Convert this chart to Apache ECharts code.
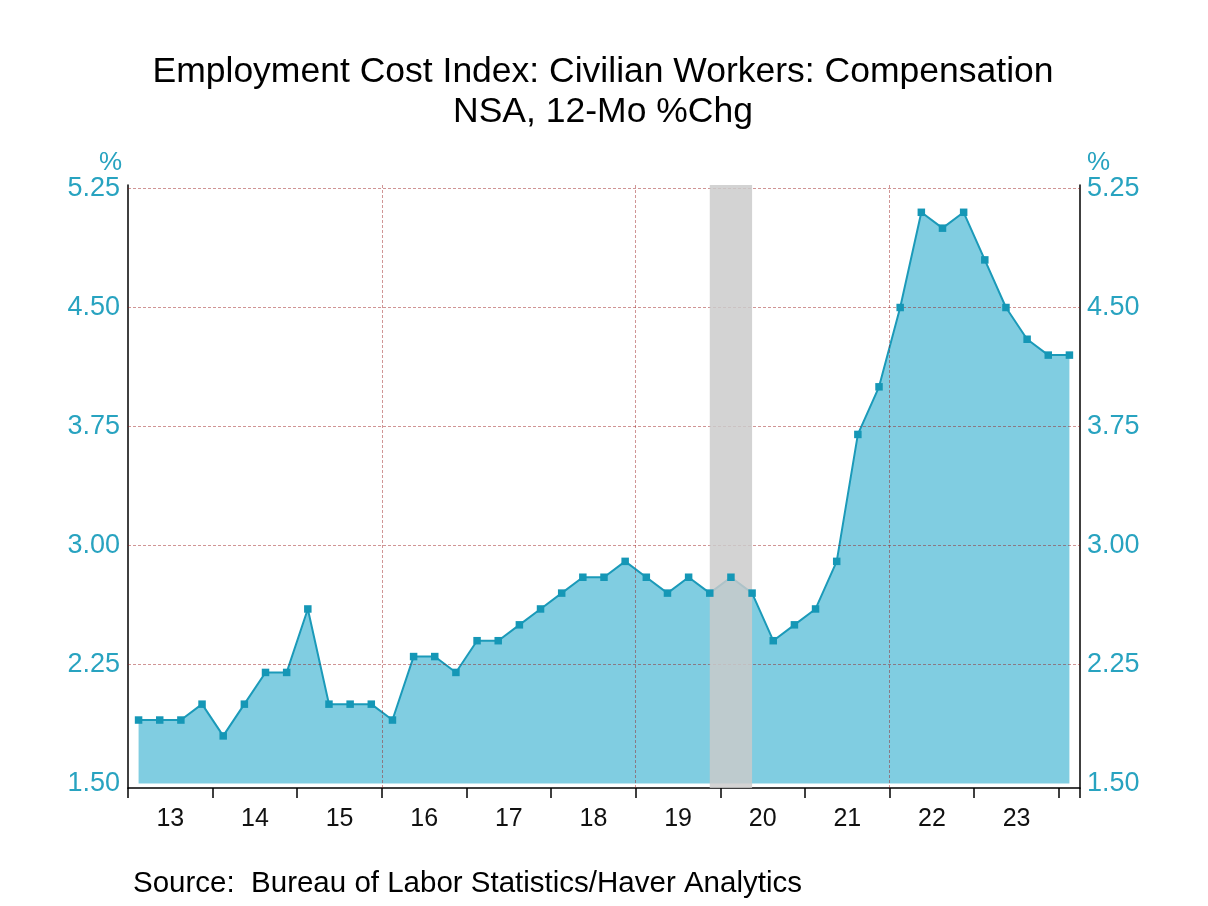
<!DOCTYPE html>
<html><head><meta charset="utf-8">
<script src="https://cdn.jsdelivr.net/npm/echarts@6/dist/echarts.min.js"></script>
<style>html,body{margin:0;padding:0;background:#fff}#c{width:1208px;height:906px}</style>
</head><body><div id="c"></div>
<script>
const quarters = [
  '2013Q1','2013Q2','2013Q3','2013Q4','2014Q1','2014Q2','2014Q3','2014Q4',
  '2015Q1','2015Q2','2015Q3','2015Q4','2016Q1','2016Q2','2016Q3','2016Q4',
  '2017Q1','2017Q2','2017Q3','2017Q4','2018Q1','2018Q2','2018Q3','2018Q4',
  '2019Q1','2019Q2','2019Q3','2019Q4','2020Q1','2020Q2','2020Q3','2020Q4',
  '2021Q1','2021Q2','2021Q3','2021Q4','2022Q1','2022Q2','2022Q3','2022Q4',
  '2023Q1','2023Q2','2023Q3','2023Q4','2024Q1'
];
const values = [
  1.9,1.9,1.9,2.0, 1.8,2.0,2.2,2.2, 2.6,2.0,2.0,2.0, 1.9,2.3,2.3,2.2,
  2.4,2.4,2.5,2.6, 2.7,2.8,2.8,2.9, 2.8,2.7,2.8,2.7, 2.8,2.7,2.4,2.5,
  2.6,2.9,3.7,4.0, 4.5,5.1,5.0,5.1, 4.8,4.5,4.3,4.2, 4.2
];
const yTicks = [1.5, 2.25, 3.0, 3.75, 4.5, 5.25];
const yearLabels = ['13','14','15','16','17','18','19','20','21','22','23'];
const vGridAt = ['2016Q1','2019Q1','2022Q1'];
const recession = ['2019Q4','2020Q2'];

const FONT = "'Liberation Sans', Arial, sans-serif";
const TEAL = '#28A3C0';
const GRIDC = 'rgba(150,20,20,0.45)';
const chart = echarts.init(document.getElementById('c'), null, {renderer: 'canvas'});

const yMin = yTicks[0], yMax = yTicks[yTicks.length - 1];
const yStep = yTicks[1] - yTicks[0];
const nQ = quarters.length;

const valAxisCommon = {
  type: 'value', gridIndex: 0, min: yMin, max: yMax, interval: yStep,
  axisLine: {show: false, onZero: false}, axisTick: {show: false}, splitLine: {show: false},
  axisLabel: {color: TEAL, fontSize: 27, fontFamily: FONT, formatter: v => v.toFixed(2)}
};
const frameLine = {show: true, onZero: false, lineStyle: {color: '#000', width: 1.5}};

chart.setOption({
  animation: false,
  backgroundColor: '#fff',
  grid: [
    {left: 128, right: 128, top: 188.5, bottom: 122.5},
    {left: 128, right: 128, top: 185, bottom: 118}
  ],
  xAxis: [
    {type: 'category', gridIndex: 0, data: quarters, boundaryGap: true, show: false},
    {type: 'value', gridIndex: 1, min: 0, max: nQ, interval: 4, position: 'bottom',
     axisLine: frameLine,
     axisTick: {show: true, length: 10, lineStyle: {color: '#000', width: 1.5}},
     axisLabel: {show: false}, splitLine: {show: false}},
    {type: 'value', gridIndex: 1, min: 0, max: nQ, interval: 2, position: 'bottom',
     axisLine: {show: false, onZero: false}, axisTick: {show: false}, splitLine: {show: false},
     axisLabel: {show: true, margin: 19, color: '#111', fontSize: 25, fontFamily: FONT,
       formatter: v => {
         const k = (v - 2) / 4;
         return (Number.isInteger(k) && k >= 0 && k < yearLabels.length) ? yearLabels[k] : '';
       }}},
    {type: 'category', gridIndex: 1, data: quarters, boundaryGap: true, show: false}
  ],
  yAxis: [
    Object.assign({}, valAxisCommon, {position: 'left', axisLabel: Object.assign({}, valAxisCommon.axisLabel, {margin: 8})}),
    Object.assign({}, valAxisCommon, {position: 'right', axisLabel: Object.assign({}, valAxisCommon.axisLabel, {margin: 7})}),
    {type: 'value', gridIndex: 1, min: 0, max: 1, position: 'left', axisLine: frameLine,
     axisTick: {show: false}, axisLabel: {show: false}, splitLine: {show: false}},
    {type: 'value', gridIndex: 1, min: 0, max: 1, position: 'right', axisLine: frameLine,
     axisTick: {show: false}, axisLabel: {show: false}, splitLine: {show: false}}
  ],
  series: [
    {name: 'Compensation', type: 'line', xAxisIndex: 0, yAxisIndex: 0, data: values,
     showSymbol: false, z: 2,
     lineStyle: {color: '#1B9AB9', width: 2},
     areaStyle: {color: '#80CDE1', opacity: 1}},
    {name: 'hgrid', type: 'line', xAxisIndex: 0, yAxisIndex: 0, data: [], z: 3,
     markLine: {silent: true, z: 3, symbol: 'none', label: {show: false},
       lineStyle: {color: GRIDC, type: [3, 2], width: 1},
       data: yTicks.slice(1).map(v => ({yAxis: v}))}},
    {name: 'vgrid', type: 'line', xAxisIndex: 1, yAxisIndex: 2, data: [], z: 3,
     markLine: {silent: true, z: 3, symbol: 'none', label: {show: false},
       lineStyle: {color: GRIDC, type: [3, 2], width: 1},
       data: vGridAt.map(q => ({xAxis: quarters.indexOf(q)}))}},
    {name: 'recession', type: 'line', xAxisIndex: 3, yAxisIndex: 2, data: [], z: 4,
     markArea: {silent: true, z: 4, itemStyle: {color: 'rgba(202,202,202,0.835)'},
       data: [[{xAxis: recession[0]}, {xAxis: recession[1]}]]}},
    {name: 'markers', type: 'line', xAxisIndex: 0, yAxisIndex: 0, data: values, z: 6,
     symbol: 'rect', symbolSize: 7.5, showSymbol: true,
     lineStyle: {width: 0, opacity: 0},
     itemStyle: {color: '#1597B6'}}
  ],
  graphic: [
    {type: 'text', x: 603, y: 72, style: {text: 'Employment Cost Index: Civilian Workers: Compensation',
      font: '35.5px ' + FONT, fill: '#000', textAlign: 'center', textVerticalAlign: 'middle'}},
    {type: 'text', x: 603, y: 112, style: {text: 'NSA, 12-Mo %Chg',
      font: '35.5px ' + FONT, fill: '#000', textAlign: 'center', textVerticalAlign: 'middle'}},
    {type: 'text', x: 122, y: 163, style: {text: '%', font: '26px ' + FONT, fill: TEAL,
      textAlign: 'right', textVerticalAlign: 'middle'}},
    {type: 'text', x: 1087, y: 163, style: {text: '%', font: '26px ' + FONT, fill: TEAL,
      textAlign: 'left', textVerticalAlign: 'middle'}},
    {type: 'text', x: 133, y: 884, style: {text: 'Source:  Bureau of Labor Statistics/Haver Analytics',
      font: '29.5px ' + FONT, fill: '#000', textAlign: 'left', textVerticalAlign: 'middle'}}
  ]
});
</script>
</body></html>
